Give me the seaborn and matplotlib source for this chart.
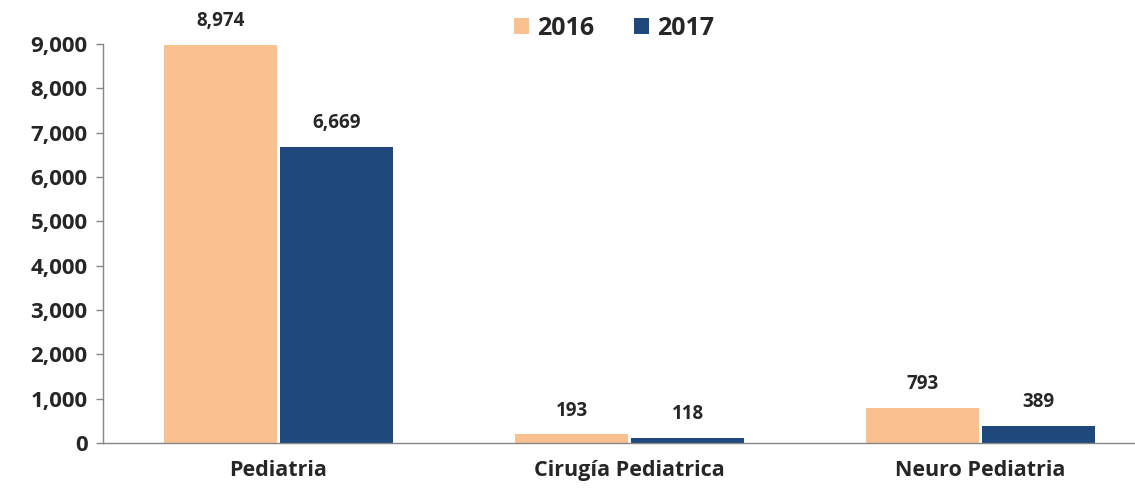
import matplotlib
matplotlib.use('Agg')

import matplotlib.pyplot as plt
import seaborn as sns
import pandas as pd

# data
categories = ['Pediatria', 'Cirugía Pediatrica', 'Neuro Pediatria']
years = ['2016', '2017']
values_2016 = [8974, 193, 793]
values_2017 = [6669, 118, 389]
yticks = [0, 1000, 2000, 3000, 4000, 5000, 6000, 7000, 8000, 9000]

colors = ['#FAC090', '#1F497D']

df = pd.DataFrame({
    'categoria': categories * 2,
    'anio': [years[0]] * 3 + [years[1]] * 3,
    'valor': values_2016 + values_2017,
})

sns.set_style('white')
plt.rcParams['font.family'] = ['Open Sans', 'DejaVu Sans']
plt.rcParams['font.weight'] = 'bold'

fig = plt.figure(figsize=(11.35, 4.93), dpi=100)
ax = fig.add_axes([0.0907, 0.1014, 0.9093, 0.8094])

sns.barplot(data=df, x='categoria', y='valor', hue='anio', order=categories,
            hue_order=years, palette=colors, width=0.66, gap=0.03,
            saturation=1, linewidth=0, ax=ax)

for cont in ax.containers:
    ax.bar_label(cont, labels=['{:,.0f}'.format(v) for v in cont.datavalues],
                 padding=10, fontsize=13.5, fontweight='bold')

ax.set_ylim(0, 9000)
ax.set_xlim(-0.5, 2.44)
ax.set_yticks(yticks)
ax.set_yticklabels(['{:,}'.format(t) for t in yticks], fontsize=16,
                   fontweight='bold')
ax.set_xticks(range(len(categories)))
ax.set_xticklabels(categories, fontsize=15.5, fontweight='bold')
ax.set_xticks([-0.5, 0.5, 1.5], minor=True)
ax.tick_params(axis='x', which='major', length=0, pad=12)
ax.tick_params(axis='x', which='minor', length=6, direction='out',
               color='#868686', width=1)
ax.tick_params(axis='y', length=5, direction='out', color='#868686',
               width=1, pad=6, left=True)
ax.set_xlabel('')
ax.set_ylabel('')

for side in ['top', 'right']:
    ax.spines[side].set_visible(False)
for side in ['left', 'bottom']:
    ax.spines[side].set_color('#868686')
    ax.spines[side].set_linewidth(1)

handles, labels = ax.get_legend_handles_labels()
ax.legend(handles, labels, loc='center', bbox_to_anchor=(0.541, 0.943),
          bbox_transform=fig.transFigure, ncol=2, frameon=False,
          prop={'size': 18, 'weight': 'bold'}, handlelength=0.6,
          handleheight=0.6, handletextpad=0.3, columnspacing=1.6)

fig.savefig('out.png', dpi=100)
